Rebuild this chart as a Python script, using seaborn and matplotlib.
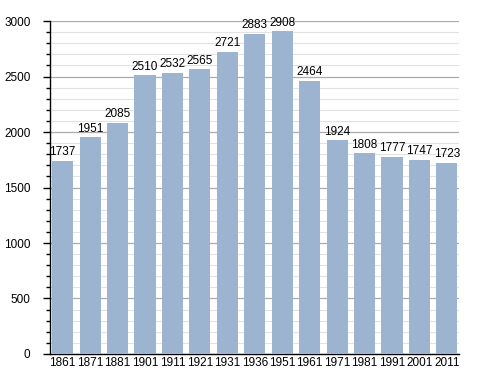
import matplotlib
matplotlib.use("Agg")
import matplotlib.pyplot as plt
import seaborn as sns
import pandas as pd
from matplotlib.ticker import MultipleLocator

years = ["1861", "1871", "1881", "1901", "1911", "1921", "1931", "1936",
         "1951", "1961", "1971", "1981", "1991", "2001", "2011"]
population = [1737, 1951, 2085, 2510, 2532, 2565, 2721, 2883,
              2908, 2464, 1924, 1808, 1777, 1747, 1723]

df = pd.DataFrame({"year": years, "pop": population})

sns.set_theme(style="white")
plt.rcParams['font.family'] = ['Liberation Sans', 'DejaVu Sans']
plt.rcParams['text.color'] = 'black'
plt.rcParams['xtick.color'] = 'black'
plt.rcParams['ytick.color'] = 'black'

fig = plt.figure(figsize=(4.88, 3.73), dpi=100)
ax = fig.add_axes([0.1025, 0.051, 0.838, 0.8925])

sns.barplot(data=df, x="year", y="pop", color="#9cb4d0", saturation=1,
            width=0.77, linewidth=0, ax=ax, zorder=3)

ax.set_ylim(0, 3000)
ax.set_xlim(-0.46, len(years) - 0.56)
ax.yaxis.set_major_locator(MultipleLocator(500))
ax.yaxis.set_minor_locator(MultipleLocator(100))
ax.grid(which="major", axis="y", color="#ababab", linewidth=0.9, zorder=0)
ax.grid(which="minor", axis="y", color="#e2e2e2", linewidth=0.8, zorder=0)
ax.set_axisbelow(True)

for s in ["top", "right"]:
    ax.spines[s].set_visible(False)
ax.spines["left"].set_color("black")
ax.spines["bottom"].set_color("black")
ax.spines["left"].set_linewidth(1)
ax.spines["bottom"].set_linewidth(1)

ax.tick_params(axis="y", which="major", left=True, length=5, width=1,
               labelsize=8.5, pad=9, color="black")
ax.tick_params(axis="y", which="minor", left=True, length=3, width=1, color="black")
ax.tick_params(axis="x", bottom=False, length=0, labelsize=8.5, pad=2)

for i, v in enumerate(population):
    ax.text(i, v + 25, str(v), ha="center", va="bottom", fontsize=8.5, zorder=4)

ax.set_xlabel("")
ax.set_ylabel("")

fig.savefig("out.png", dpi=100)
